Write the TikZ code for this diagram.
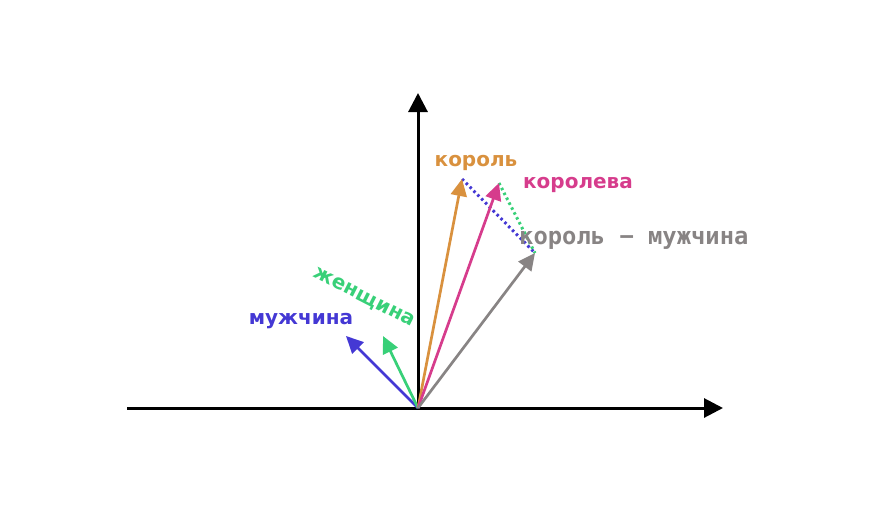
\documentclass[tikz,border=0pt]{standalone}
\usepackage{fontspec}
\setmainfont{DejaVu Sans}
\newfontfamily\monofont{DejaVu Sans Mono}
\usetikzlibrary{arrows.meta}

\definecolor{kingcol}{RGB}{217,145,62}
\definecolor{queencol}{RGB}{214,60,140}
\definecolor{mancol}{RGB}{68,56,212}
\definecolor{womancol}{RGB}{56,208,120}
\definecolor{diffcol}{RGB}{136,132,132}

\tikzset{
    axis/.style={line width=3pt, -{Triangle[length=19pt,width=19pt]}},
    vec/.style={line width=2.7pt, -{Triangle[length=17pt,width=16pt]}},
    guide/.style={line width=3pt, dash pattern=on 2.5pt off 3pt},
    word/.style={font=\fontsize{20}{24}\selectfont\bfseries, inner sep=0pt},
}

\begin{document}
\begin{tikzpicture}[x=1pt, y=-1pt]
    \useasboundingbox (0,0) rectangle (880,506);

    % origin and vector ends
    \coordinate (O) at (418,408);
    \coordinate (xmin) at (127,408);
    \coordinate (xmax) at (723,408);
    \coordinate (ymax) at (418,93);
    \coordinate (king) at (462,179);
    \coordinate (queen) at (499,183);
    \coordinate (man) at (346,336);
    \coordinate (woman) at (383,336);
    \coordinate (diff) at (535,253);

    % axes
    \draw[axis] (xmin) -- (xmax);
    \draw[axis] (O) -- (ymax);

    % dotted offsets
    \draw[guide, mancol] (king) -- (diff);
    \draw[guide, womancol] (queen) -- (diff);

    % word vectors
    \draw[vec, mancol] (O) -- (man);
    \draw[vec, womancol] (O) -- (woman);
    \draw[vec, kingcol] (O) -- (king);
    \draw[vec, queencol] (O) -- (queen);
    \draw[vec, diffcol] (O) -- (diff);

    % labels
    \node[word, kingcol] (kinglbl) at (476,163) {король};
    \node[word, queencol] (queenlbl) at (578,185) {королева};
    \node[word, mancol] (manlbl) at (301,321) {мужчина};
    \node[word, womancol, rotate=-27] (womanlbl) at (364,298) {женщина};
    \node[word, diffcol, anchor=west, font=\fontsize{23.8}{28}\selectfont\monofont\bfseries]
        (difflbl) at (519,240) {король − мужчина};
\end{tikzpicture}
\end{document}
